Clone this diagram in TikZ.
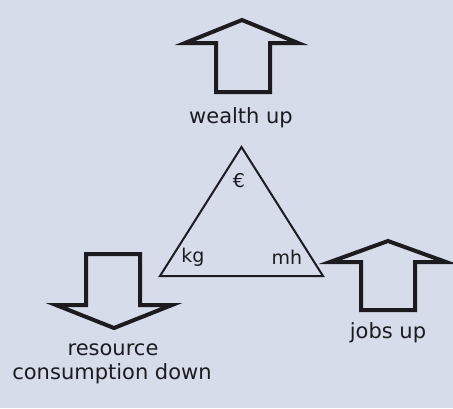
\documentclass[tikz,border=0pt]{standalone}
\usepackage{fontspec}
\setmainfont{DejaVu Sans}
\definecolor{bgc}{RGB}{214,220,234}
\definecolor{ink}{RGB}{28,28,30}
\begin{document}
\begin{tikzpicture}[x=1pt,y=-1pt,
  arrowline/.style={draw=ink,line width=4pt,line join=miter},
  triline/.style={draw=ink,line width=2pt,line join=miter},
  lbl/.style={text=ink,font=\fontsize{21}{25}\selectfont,inner sep=0pt,anchor=center},
  tlbl/.style={text=ink,font=\fontsize{19}{23}\selectfont,inner sep=0pt,anchor=center}]
\fill[bgc] (0,0) rectangle (453,408);
\useasboundingbox (0,0) rectangle (453,408);
% wealth up arrow
\draw[arrowline] (242,20) -- (298,43) -- (270,43) -- (270,92) -- (216,92) -- (216,43) -- (185,43) -- cycle;
\node[lbl] (wealth) at (241,118) {wealth up};
% jobs up arrow
\draw[arrowline] (388,241) -- (446,262) -- (415,262) -- (415,310) -- (361,310) -- (361,262) -- (330,262) -- cycle;
\node[lbl] (jobs) at (388,333) {jobs up};
% resource down arrow
\draw[arrowline] (114,328) -- (172,305) -- (140,305) -- (140,254) -- (86,254) -- (86,305) -- (56,305) -- cycle;
\node[lbl] (res1) at (113,350) {resource};
\node[lbl] (res2) at (112,374) {consumption down};
% triangle
\coordinate (ta) at (241.5,147);
\coordinate (tl) at (160,276);
\coordinate (tr) at (323,276);
\draw[triline] (ta) -- (tr) -- (tl) -- cycle;
\node[tlbl] (euro) at (239,181) {€};
\node[tlbl] (kg) at (193,257) {kg};
\node[tlbl] (mh) at (287,257) {mh};
\end{tikzpicture}
\end{document}
